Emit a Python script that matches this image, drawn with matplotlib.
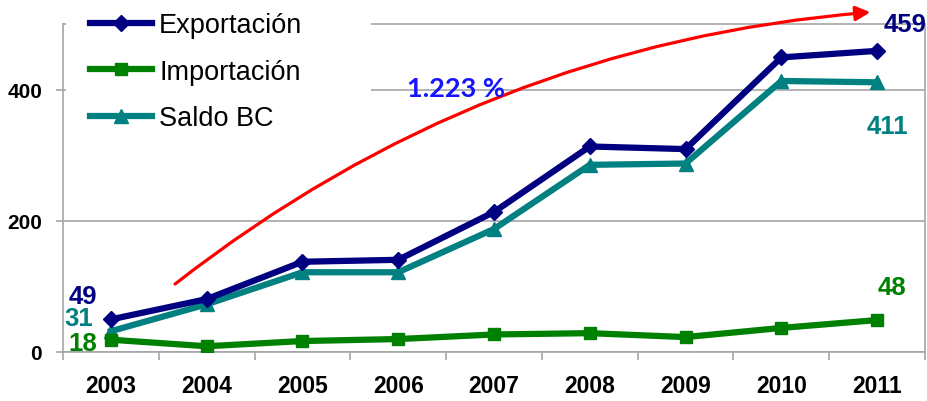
import numpy as np
import matplotlib
matplotlib.use("Agg")
from matplotlib import pyplot as plt
from matplotlib.patches import Rectangle

years = ["2003", "2004", "2005", "2006", "2007", "2008", "2009", "2010", "2011"]
exportacion = [49, 80, 137, 140, 213, 313, 309, 449, 459]
importacion = [18, 8, 16, 19, 26, 28, 22, 36, 48]
saldo_bc = [31, 72, 121, 121, 187, 285, 287, 413, 411]
growth_label = "1.223 %"

NAVY = "#000080"
GREEN = "#008000"
TEAL = "#008080"
GRID = "#a6a6a6"

plt.rcParams["font.family"] = ["Liberation Sans", "DejaVu Sans"]

fig = plt.figure(figsize=(9.28, 4.02), dpi=100)
ax = fig.add_axes([63 / 928, 1 - 352.5 / 402, 862 / 928, 327.5 / 402])

x = np.arange(len(years))

ax.plot(x, exportacion, color=NAVY, lw=4.5, marker="D", ms=8.5, label="Exportación", zorder=5)
ax.plot(x, importacion, color=GREEN, lw=4.5, marker="s", ms=8.5, label="Importación", zorder=5)
ax.plot(x, saldo_bc, color=TEAL, lw=4.5, marker="^", ms=10, label="Saldo BC", zorder=4)

ax.set_xlim(-0.5, len(years) - 0.5)
ax.set_ylim(0, 500)

# axes styling
ax.set_yticks([0, 200, 400])
ax.set_yticklabels(["0", "200", "400"], fontsize=15, fontweight="bold")
ax.set_xticks(x)
ax.set_xticklabels(years, fontsize=16.5, fontweight="bold")
ax.set_xticks(np.arange(-0.5, len(years)), minor=True)
ax.tick_params(axis="x", which="major", length=0, pad=16)
ax.tick_params(axis="x", which="minor", length=6, color=GRID, width=1.2)
ax.tick_params(axis="y", length=5, color=GRID, width=1.2, pad=10)
ax.yaxis.grid(True, color=GRID, lw=1.2)
for side in ["left", "bottom", "top", "right"]:
    ax.spines[side].set_color(GRID)
    ax.spines[side].set_linewidth(1.2)

# white legend area covering gridlines
ax.add_patch(Rectangle((0.003, 0.65), (368 - 63) / 862, 0.36, transform=ax.transAxes,
                       facecolor="white", edgecolor="none", zorder=2.6, clip_on=False))

leg = ax.legend(loc="upper left", bbox_to_anchor=(90 / 928, 1 - 13 / 402),
                bbox_transform=fig.transFigure, frameon=False, fontsize=19.5,
                handlelength=2.3, handletextpad=0.25, labelspacing=0.76,
                borderaxespad=0, borderpad=0)
leg.set_zorder(6)

# data labels at first and last points
def label(val, idx, text, color, dx, dy):
    ax.annotate(text, xy=(idx, val), xytext=(dx, dy), textcoords="offset pixels",
                ha="center", va="center", color=color, fontsize=18.5,
                fontweight="bold", annotation_clip=False, zorder=7)

label(exportacion[0], 0, str(exportacion[0]), NAVY, -28, 23)
label(saldo_bc[0], 0, str(saldo_bc[0]), TEAL, -32, 13)
label(importacion[0], 0, str(importacion[0]), GREEN, -28, -3)
label(exportacion[-1], 8, str(exportacion[-1]), NAVY, 28, 27)
label(saldo_bc[-1], 8, str(saldo_bc[-1]), TEAL, 10, -44)
label(importacion[-1], 8, str(importacion[-1]), GREEN, 15, 33)

# growth arrow
ax.annotate("", xy=(7.93, 518), xytext=(0.67, 103),
            arrowprops=dict(arrowstyle="-|>", color="red", lw=2.3, mutation_scale=22,
                            connectionstyle="arc3,rad=-0.15", shrinkA=0, shrinkB=0),
            annotation_clip=False, zorder=3)
ax.text(3.6, 403, growth_label, color="#1414ff", fontsize=19.5, fontweight="bold",
        family=["Lato", "DejaVu Sans"], ha="center", va="center", zorder=7)

fig.savefig("out.png", dpi=100)
